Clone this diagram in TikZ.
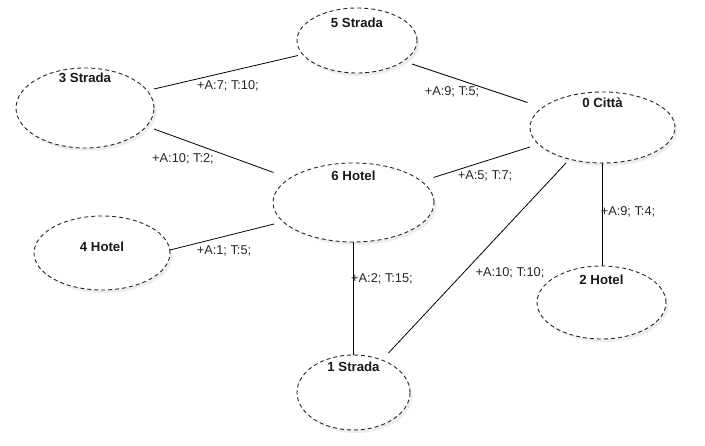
\documentclass[tikz,border=0pt]{standalone}
\usepackage{fontspec}
\setmainfont{Liberation Sans}
\usetikzlibrary{shapes.geometric,shadows}
\begin{document}
\begin{tikzpicture}[x=1pt,y=-1pt,
  place/.style={ellipse, draw=black!85, dash pattern=on 4pt off 3pt, line width=0.9pt,
    fill=white, inner sep=0pt,
    drop shadow={shadow xshift=2.5pt, shadow yshift=-3pt, fill=black!10, opacity=0.7}},
  title/.style={font=\bfseries\fontsize{13.2}{15}\selectfont, inner sep=0pt, text=black!90},
  cost/.style={font=\fontsize{12.8}{15}\selectfont, inner sep=0pt, text=black!85},
  road/.style={draw=black, line width=0.8pt}]
\useasboundingbox (0,0) rectangle (705,446);

% places
\node[place, minimum width=120pt, minimum height=65pt] (s5) at (357,40.5) {};
\node[place, minimum width=138pt, minimum height=80pt] (s3) at (85,108) {};
\node[place, minimum width=145pt, minimum height=71pt] (c0) at (602.5,127.5) {};
\node[place, minimum width=161pt, minimum height=79pt] (h6) at (353.5,202.5) {};
\node[place, minimum width=136pt, minimum height=74pt] (h4) at (102,253) {};
\node[place, minimum width=129pt, minimum height=73pt] (h2) at (601.5,302.5) {};
\node[place, minimum width=113pt, minimum height=75pt] (s1) at (353.5,392.5) {};

% place names
\node[title] (t5) at (357,23) {5 Strada};
\node[title] (t3) at (85,78) {3 Strada};
\node[title] (t0) at (602.5,103) {0 Città};
\node[title] (t6) at (353.5,176) {6 Hotel};
\node[title] (t4) at (102,247) {4 Hotel};
\node[title] (t2) at (601.5,280) {2 Hotel};
\node[title] (t1) at (353.5,367) {1 Strada};

% roads, attached at fixed offsets from each place's centre
\draw[road] ([shift={(69,-19)}]s3.center) -- ([shift={(-59,15)}]s5.center);
\draw[road] ([shift={(55,23.5)}]s5.center) -- ([shift={(-75,-25)}]c0.center);
\draw[road] ([shift={(69,21)}]s3.center) -- ([shift={(-80,-30)}]h6.center);
\draw[road] ([shift={(80,-25)}]h6.center) -- ([shift={(-72.5,19.5)}]c0.center);
\draw[road] ([shift={(68,-3)}]h4.center) -- ([shift={(-79.5,21.5)}]h6.center);
\draw[road] (h6.south) -- (h6.south |- s1.north);
\draw[road] ([shift={(-36.5,35.5)}]c0.center) -- ([shift={(35,-39.5)}]s1.center);
\draw[road] (c0.south) -- (c0.south |- h2.north);

% costs
\node[cost] (l35) at (228,86) {+A:7; T:10;};
\node[cost] (l50) at (452,92) {+A:9; T:5;};
\node[cost] (l36) at (183,159) {+A:10; T:2;};
\node[cost] (l60) at (485,176) {+A:5; T:7;};
\node[cost] (l46) at (224,251) {+A:1; T:5;};
\node[cost] (l61) at (382,279) {+A:2; T:15;};
\node[cost] (l01) at (510,273) {+A:10; T:10;};
\node[cost] (l02) at (628,212) {+A:9; T:4;};
\end{tikzpicture}
\end{document}
